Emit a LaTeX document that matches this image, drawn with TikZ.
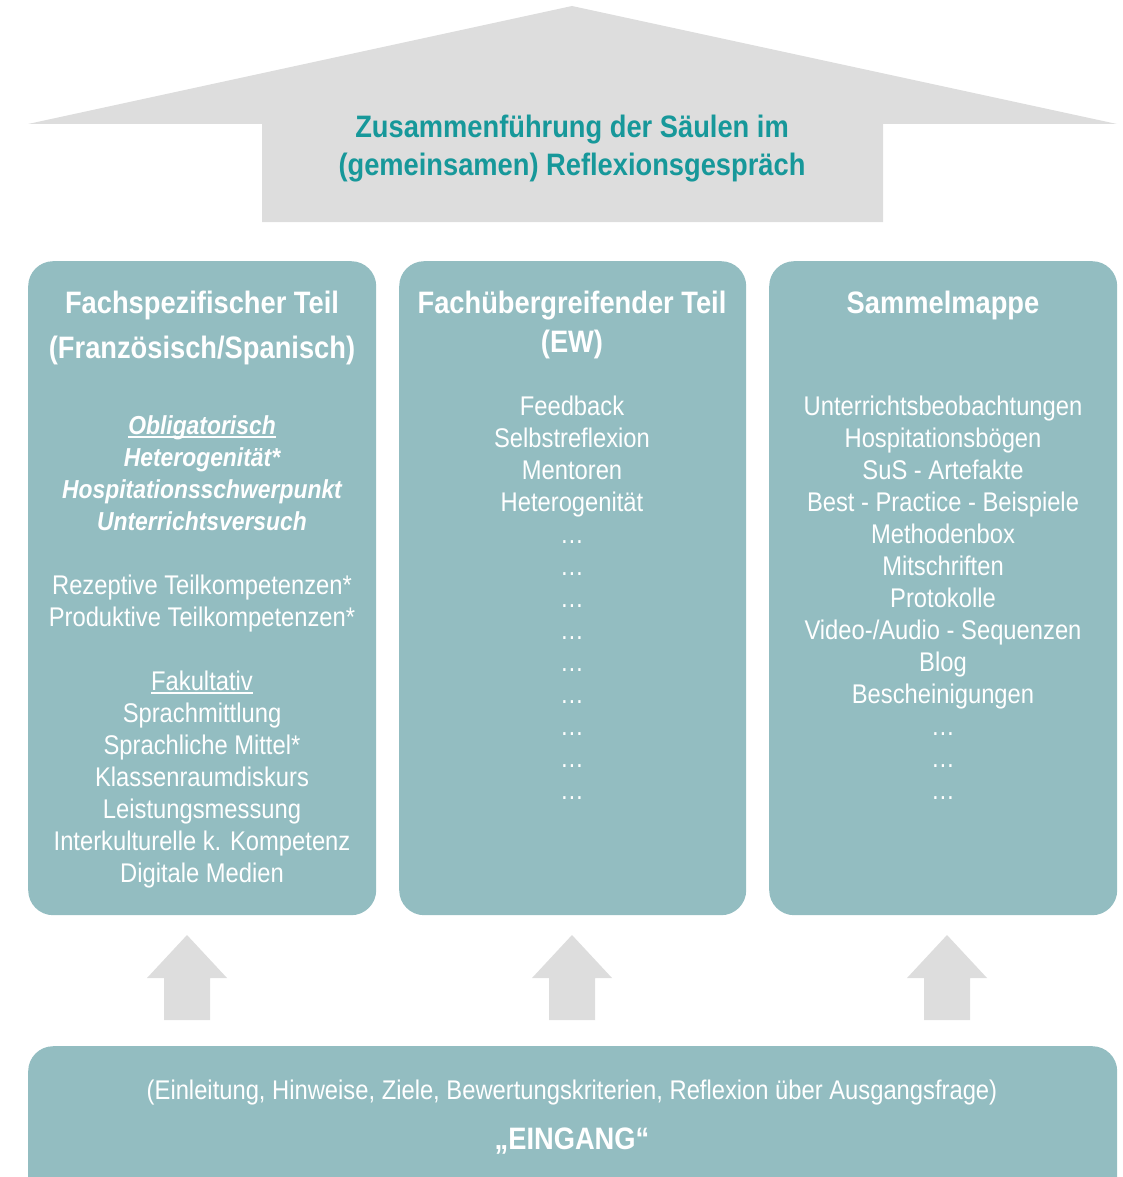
\documentclass[tikz,border=0pt]{standalone}
\usepackage{fontspec}
\setmainfont{Liberation Sans}[FakeStretch=0.88]
\usetikzlibrary{positioning}
\definecolor{pillarteal}{HTML}{93BDC1}
\definecolor{roofgray}{HTML}{DDDDDD}
\definecolor{titleteal}{HTML}{17989A}
\newcommand\underl[1]{\setbox0\hbox{#1}\rlap{\rule[-3.5pt]{\wd0}{1.3pt}}\box0}

\begin{document}
\begin{tikzpicture}[x=1pt,y=-1pt,
    pillar/.style={fill=pillarteal, rounded corners=25pt, minimum width=348pt, minimum height=654pt, anchor=north west, inner sep=0pt},
    line/.style={anchor=base, inner sep=0pt, text=white, font=\fontsize{27}{32}\selectfont},
    head/.style={line, font=\fontsize{31}{36}\selectfont\bfseries},
    ital/.style={line, font=\fontsize{26}{32}\selectfont\bfseries\itshape},
    title/.style={anchor=base, inner sep=0pt, text=titleteal, font=\fontsize{31}{36}\selectfont\bfseries}]
    \useasboundingbox (0,0) rectangle (1123,1177);

    % roof
    \fill[roofgray] (28,124) -- (572,6) -- (1117,124) -- (883,124) -- (883,222) -- (262,222) -- (262,124) -- cycle;
    \node[title] (title1) at (572,138) {Zusammenführung der Säulen im};
    \node[title] (title2) at (572,176) {(gemeinsamen) Reflexionsgespräch};

    % pillars
    \node[pillar] (fach) at (28,261) {};
    \node[pillar, minimum width=347pt] (ueber) at (399,261) {};
    \node[pillar] (mappe) at (769,261) {};
    \node[pillar, minimum width=1089pt, minimum height=170pt] (eingang) at (28,1046) {};

    \node[head] (fach-h1) at (202,313) {Fachspezifischer Teil};
    \node[head] (fach-h2) at (202,358) {(Französisch/Spanisch)};
    \node[head] (ueber-h1) at (572,313) {Fachübergreifender Teil};
    \node[head] (ueber-h2) at (572,352) {(EW)};
    \node[head] (mappe-h) at (943,313) {Sammelmappe};

    % Fachspezifischer Teil
    \foreach \t [count=\i from 0] in {\underl{Obligatorisch}, Heterogenität*, Hospitationsschwerpunkt, Unterrichtsversuch}
        \node[ital] (fach-o\i) at (202,{434+32*\i}) {\t};
    \foreach \t [count=\i from 0] in {Rezeptive Teilkompetenzen*, Produktive Teilkompetenzen*}
        \node[line] (fach-t\i) at (202,{594+32*\i}) {\t};
    \foreach \t [count=\i from 0] in {\underl{Fakultativ}, Sprachmittlung, Sprachliche Mittel*, Klassenraumdiskurs, Leistungsmessung, Interkulturelle k. Kompetenz, Digitale Medien}
        \node[line] (fach-f\i) at (202,{690+32*\i}) {\t};

    % Fachuebergreifender Teil
    \foreach \t [count=\i from 0] in {Feedback, Selbstreflexion, Mentoren, Heterogenität, \dots, \dots, \dots, \dots, \dots, \dots, \dots, \dots, \dots}
        \node[line] (ueber-\i) at (572,{415+32*\i}) {\t};

    % Sammelmappe
    \foreach \t [count=\i from 0] in {Unterrichtsbeobachtungen, Hospitationsbögen, SuS - Artefakte, Best - Practice - Beispiele, Methodenbox, Mitschriften, Protokolle, Video-/Audio - Sequenzen, Blog, Bescheinigungen, \dots, \dots, \dots}
        \node[line] (mappe-\i) at (943,{415+32*\i}) {\t};

    % Eingang
    \node[line] (eingang-t) at (572,1099) {(Einleitung, Hinweise, Ziele, Bewertungskriterien, Reflexion über Ausgangsfrage)};
    \node[head] (eingang-h) at (572,1149) {„EINGANG“};

    % arrows
    \foreach \ax in {187,572,947}
        \fill[roofgray] (\ax-23,1020) -- (\ax-23,978) -- (\ax-40,978) -- (\ax,935) -- (\ax+40,978) -- (\ax+23,978) -- (\ax+23,1020) -- cycle;
\end{tikzpicture}
\end{document}
